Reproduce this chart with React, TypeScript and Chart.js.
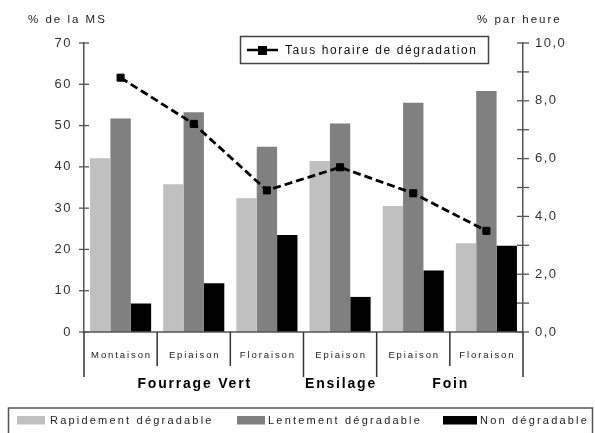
import React, { useEffect, useRef } from "react";
import { Chart, registerables } from "chart.js";

Chart.register(...registerables);

// ---- data ----
const categories = ["Montaison", "Epiaison", "Floraison", "Epiaison", "Epiaison", "Floraison"];
const groups = ["Fourrage Vert", "Ensilage", "Foin"];
const groupSpans = [3, 1, 2];
const rapide = [42.1, 35.8, 32.4, 41.4, 30.5, 21.5];
const lente = [51.7, 53.2, 44.9, 50.5, 55.5, 58.4];
const nonDeg = [6.9, 11.8, 23.5, 8.5, 14.9, 20.9];
const tauxHoraire = [8.8, 7.2, 4.9, 5.7, 4.8, 3.5];
const seriesLabels = ["Rapidement dégradable", "Lentement dégradable", "Non dégradable"];
const lineLabel = "Taus horaire de dégradation";
const leftTitle = "% de la MS";
const rightTitle = "% par heure";
const leftMax = 70;
const leftStep = 10;
const rightMax = 10;
const rightStep = 2;
const rightMinorStep = 1;

// ---- styles ----
const FONT = '"Liberation Sans", Arial, Helvetica, sans-serif';
const barColors = ["#c0c0c0", "#808080", "#000000"];

function drawText(
  ctx: CanvasRenderingContext2D,
  s: string,
  x: number,
  y: number,
  size: number,
  spacing: number,
  align: CanvasTextAlign,
  color: string,
  bold = false
) {
  ctx.save();
  (ctx as any).letterSpacing = spacing + "px";
  ctx.font = (bold ? "bold " : "") + size + "px " + FONT;
  ctx.fillStyle = color;
  ctx.textAlign = align;
  ctx.textBaseline = "middle";
  let xx = x;
  if (align === "center") xx = x + spacing / 2;
  if (align === "right") xx = x + spacing;
  ctx.fillText(s, xx, y);
  ctx.restore();
}

const decorPlugin = {
  id: "decor",
  beforeDraw(chart: any) {
    const ctx = chart.ctx as CanvasRenderingContext2D;
    ctx.save();
    ctx.fillStyle = "#ffffff";
    ctx.fillRect(0, 0, chart.width, chart.height);
    ctx.restore();
    (ctx as any).letterSpacing = "1.5px";
  },
  afterDraw(chart: any) {
    const ctx = chart.ctx as CanvasRenderingContext2D;
    (ctx as any).letterSpacing = "0px";
    const { left, right } = chart.chartArea;
    const xs = chart.scales.x;
    const yL = chart.scales.y;
    const yR = chart.scales.y1;
    const y0 = yL.getPixelForValue(0);

    ctx.save();
    // zero line
    ctx.strokeStyle = "#555";
    ctx.lineWidth = 1.5;
    ctx.beginPath();
    ctx.moveTo(left, y0);
    ctx.lineTo(right, y0);
    ctx.stroke();

    // left ticks (crossing)
    ctx.lineWidth = 1.3;
    for (let v = 0; v <= leftMax; v += leftStep) {
      const y = yL.getPixelForValue(v);
      ctx.beginPath();
      ctx.moveTo(left - 5, y);
      ctx.lineTo(left + 5, y);
      ctx.stroke();
    }
    // right ticks (minor each 1.0)
    for (let v = 0; v <= rightMax; v += rightMinorStep) {
      const y = yR.getPixelForValue(v);
      ctx.beginPath();
      ctx.moveTo(right - 6, y);
      ctx.lineTo(right + 6, y);
      ctx.stroke();
    }

    // category dividers
    const step = xs.getPixelForValue(1) - xs.getPixelForValue(0);
    const bx = (i: number) => xs.getPixelForValue(0) - step / 2 + i * step;
    const groupBounds = new Set<number>();
    let acc = 0;
    groupBounds.add(0);
    groupSpans.forEach((s) => {
      acc += s;
      groupBounds.add(acc);
    });
    ctx.strokeStyle = "#333";
    ctx.lineWidth = 1.5;
    for (let i = 0; i <= categories.length; i++) {
      const x = bx(i);
      const long = groupBounds.has(i);
      ctx.beginPath();
      ctx.moveTo(x, y0);
      ctx.lineTo(x, long ? y0 + 45 : y0 + 34);
      ctx.stroke();
    }
    ctx.restore();

    // category labels
    categories.forEach((c, i) => {
      drawText(ctx, c, xs.getPixelForValue(i), y0 + 23, 9.5, 1.9, "center", "#222");
    });
    // group labels
    acc = 0;
    groups.forEach((g, gi) => {
      const x0 = bx(acc);
      acc += groupSpans[gi];
      const x1 = bx(acc);
      drawText(ctx, g, (x0 + x1) / 2, y0 + 52, 14, 1.8, "center", "#000", true);
    });

    // axis titles
    drawText(ctx, leftTitle, 28, 20, 11.5, 2, "left", "#222");
    drawText(ctx, rightTitle, 477, 20, 11.5, 2, "left", "#222");

    // line legend box
    ctx.save();
    ctx.strokeStyle = "#444";
    ctx.lineWidth = 1.5;
    ctx.strokeRect(240.5, 36.5, 248, 27);
    ctx.strokeStyle = "#000";
    ctx.lineWidth = 2.5;
    ctx.beginPath();
    ctx.moveTo(247, 50);
    ctx.lineTo(278, 50);
    ctx.stroke();
    ctx.fillStyle = "#000";
    ctx.fillRect(258, 46, 9, 9);
    ctx.restore();
    drawText(ctx, lineLabel, 285, 50.5, 12, 1.6, "left", "#111");

    // bottom legend
    ctx.save();
    ctx.strokeStyle = "#555";
    ctx.lineWidth = 1.5;
    ctx.strokeRect(8.5, 408, 584, 40);
    const sw = [
      [17, 28, 50],
      [237, 28, 268],
      [443, 34, 480],
    ];
    seriesLabels.forEach((lab, i) => {
      ctx.fillStyle = barColors[i];
      ctx.fillRect(sw[i][0], 416, sw[i][1], 8.5);
    });
    ctx.restore();
    seriesLabels.forEach((lab, i) => {
      drawText(ctx, lab, sw[i][2], 420.5, 11, 2.2, "left", "#222");
    });
  },
};

export default function App() {
  const ref = useRef<HTMLCanvasElement | null>(null);
  useEffect(() => {
    if (!ref.current) return;
    const tickFont = { family: FONT, size: 13 };
    const chart = new Chart(ref.current, {
      type: "bar",
      data: {
        labels: categories,
        datasets: [
          {
            type: "line",
            label: lineLabel,
            data: tauxHoraire,
            yAxisID: "y1",
            borderColor: "#000",
            borderWidth: 2.8,
            borderDash: [8, 4],
            pointStyle: "rect",
            pointRadius: 5,
            pointBackgroundColor: "#000",
            pointBorderColor: "#000",
            pointBorderWidth: 1,
            tension: 0,
            order: 0,
          } as any,
          { label: seriesLabels[0], data: rapide, backgroundColor: barColors[0], yAxisID: "y", order: 1 },
          { label: seriesLabels[1], data: lente, backgroundColor: barColors[1], yAxisID: "y", order: 1 },
          { label: seriesLabels[2], data: nonDeg, backgroundColor: barColors[2], yAxisID: "y", order: 1 },
        ],
      },
      options: {
        animation: false,
        responsive: false,
        layout: { padding: { top: 43, bottom: 101, left: 0, right: 0 } },
        plugins: { legend: { display: false }, tooltip: { enabled: false } },
        datasets: { bar: { barPercentage: 1, categoryPercentage: 0.835 } },
        scales: {
          x: { display: false },
          y: {
            position: "left",
            min: 0,
            max: leftMax,
            ticks: { stepSize: leftStep, padding: 12, color: "#333", font: tickFont },
            grid: { display: false, drawTicks: false },
            border: { display: true, color: "#555", width: 1.5 },
            afterFit: (s: any) => {
              s.width = 84;
            },
          },
          y1: {
            position: "right",
            min: 0,
            max: rightMax,
            ticks: {
              stepSize: rightStep,
              padding: 12,
              color: "#333",
              font: tickFont,
              callback: (v: any) => Number(v).toFixed(1).replace(".", ","),
            },
            grid: { display: false, drawTicks: false },
            border: { display: true, color: "#555", width: 1.5 },
            afterFit: (s: any) => {
              s.width = 72;
            },
          },
        },
      } as any,
      plugins: [decorPlugin],
    });
    return () => chart.destroy();
  }, []);
  return (
    <div style={{ position: "fixed", left: 0, top: 0, width: 595, height: 433, background: "#fff", overflow: "hidden" }}>
      <canvas ref={ref} width={595} height={433} style={{ width: 595, height: 433, display: "block" }} />
    </div>
  );
}
